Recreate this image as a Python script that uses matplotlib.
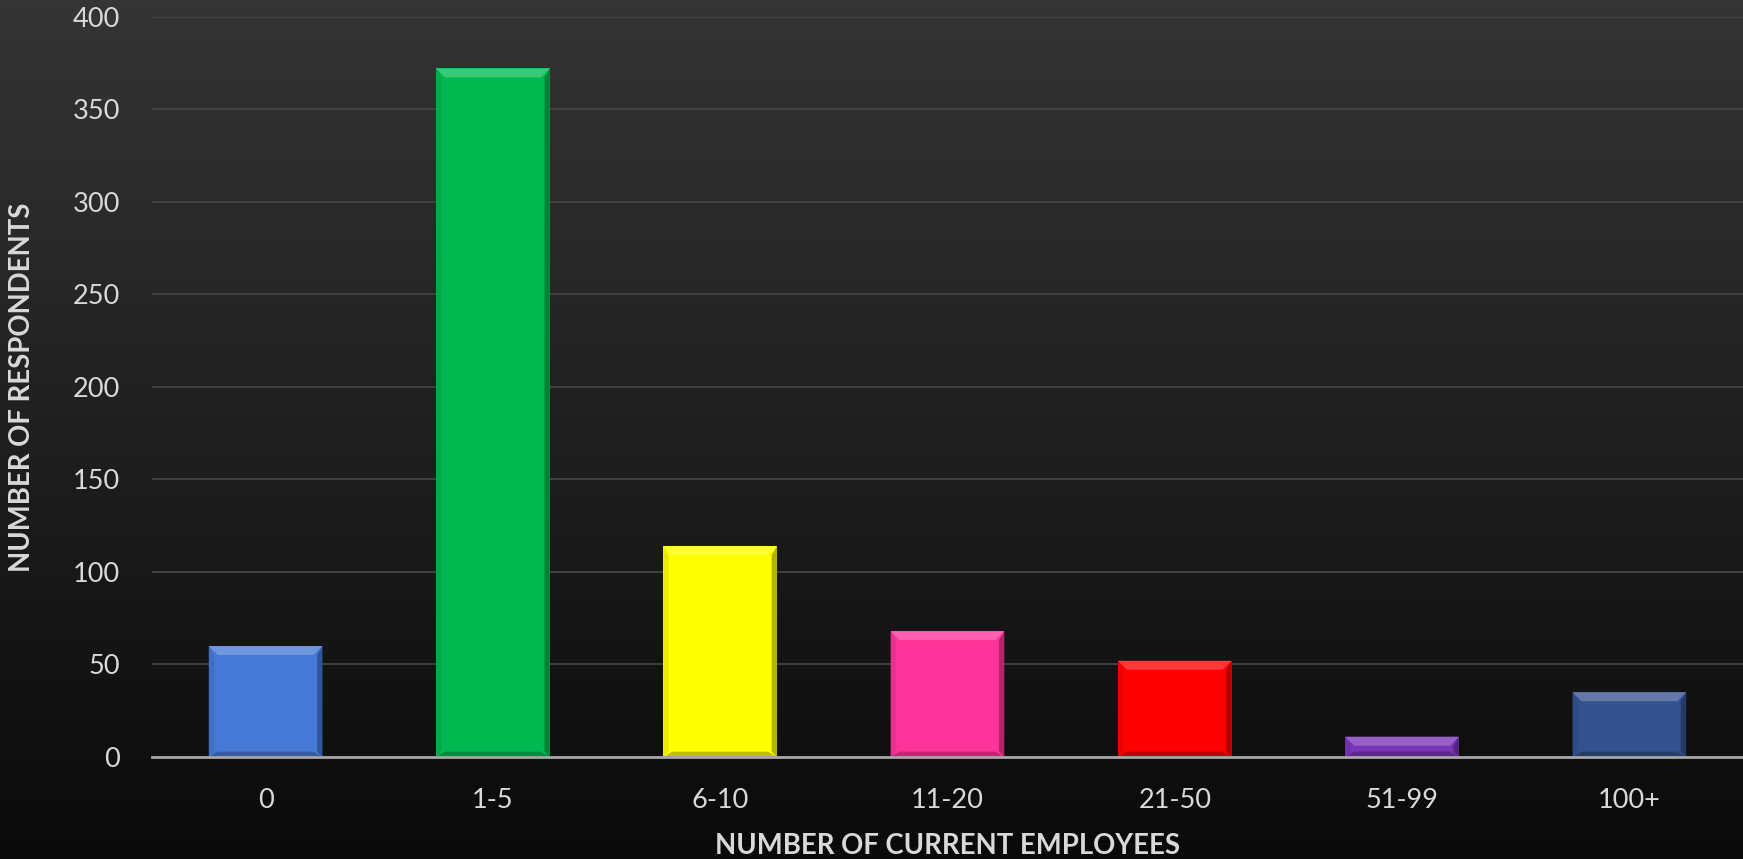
import numpy as np
import matplotlib
matplotlib.use("Agg")
import matplotlib.pyplot as plt
from matplotlib.patches import Polygon
from matplotlib.colors import to_rgb

categories = ["0", "1-5", "6-10", "11-20", "21-50", "51-99", "100+"]
respondents = [60, 372, 114, 68, 52, 11, 35]
bar_colors = ["#4679D6", "#00B850", "#FFFF00", "#FF3399", "#FF0000", "#7A34B8", "#34528F"]
y_ticks = [0, 50, 100, 150, 200, 250, 300, 350, 400]

text_color = "#D9D9D9"
plt.rcParams["font.family"] = ["Lato", "DejaVu Sans"]

fig = plt.figure(figsize=(17.43, 8.59), dpi=100)

# vertical background gradient, dark grey at top fading to near black
bg = fig.add_axes([0, 0, 1, 1], zorder=-10)
grad = np.linspace(0, 1, 256).reshape(-1, 1)
top = np.array(to_rgb("#353535"))
bot = np.array(to_rgb("#0A0A0A"))
img = top[None, None, :] * (1 - grad[..., None]) + bot[None, None, :] * grad[..., None]
bg.imshow(img, aspect="auto", extent=[0, 1, 0, 1])
bg.set_axis_off()

ax = fig.add_axes([0.0872, 0.1187, 0.9128, 0.8619])
ax.patch.set_alpha(0)
x = np.arange(len(categories))
bars = ax.bar(x, respondents, width=0.5, color=bar_colors, zorder=3, linewidth=0)

ax.set_xlim(-0.5, len(categories) - 0.5)
ax.set_ylim(0, 400)
ax.set_yticks(y_ticks)
ax.set_xticks(x)
ax.set_xticklabels(categories)
ax.grid(axis="y", color="#474747", linewidth=1.2, zorder=0)
for s in ["top", "right", "left"]:
    ax.spines[s].set_visible(False)
ax.spines["bottom"].set_color("#A6A6A6")
ax.spines["bottom"].set_linewidth(2)
ax.spines["bottom"].set_zorder(5)
ax.tick_params(axis="both", length=0, colors=text_color, labelsize=19.5)
ax.tick_params(axis="y", pad=23)
ax.tick_params(axis="x", pad=22)

ax.set_ylabel("NUMBER OF RESPONDENTS", color=text_color, fontsize=19.8,
              fontweight="bold", labelpad=27)
ax.set_xlabel("NUMBER OF CURRENT EMPLOYEES", color=text_color, fontsize=19.8,
              fontweight="bold", labelpad=15)


def shade(c, f):
    c = np.array(to_rgb(c))
    if f >= 0:
        return tuple(c + (1 - c) * f)
    return tuple(c * (1 + f))


# bevelled edges on each bar
fig.canvas.draw()
to_data = ax.transData.inverted()
px = 9
for rect, col in zip(bars, bar_colors):
    x0, w, h = rect.get_x(), rect.get_width(), rect.get_height()
    (dx, dy) = to_data.transform((px, px)) - to_data.transform((0, 0))
    b = min(dy, h / 2.2)
    x1 = x0 + w
    shapes = [
        ([(x0, h), (x1, h), (x1 - dx, h - b), (x0 + dx, h - b)], shade(col, 0.22)),
        ([(x0, 0), (x1, 0), (x1 - dx, b * 0.6), (x0 + dx, b * 0.6)], shade(col, -0.25)),
        ([(x0, 0), (x0 + dx * 0.6, b * 0.6), (x0 + dx * 0.6, h - b), (x0, h)], shade(col, -0.08)),
        ([(x1, 0), (x1 - dx * 0.6, b * 0.6), (x1 - dx * 0.6, h - b), (x1, h)], shade(col, -0.3)),
    ]
    for pts, c in shapes:
        ax.add_patch(Polygon(pts, closed=True, facecolor=c, edgecolor="none", zorder=4))

fig.savefig("out.png", dpi=100, facecolor="#1a1a1a")
